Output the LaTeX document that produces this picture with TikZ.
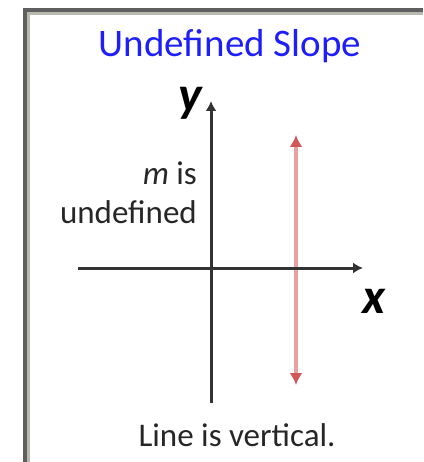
\documentclass[tikz,border=0pt]{standalone}
\usepackage{fontspec}
\setmainfont{Carlito}
\usetikzlibrary{arrows.meta,positioning}
\definecolor{slopeblue}{RGB}{30,30,250}
\definecolor{vline}{RGB}{232,160,160}
\definecolor{vhead}{RGB}{208,90,90}
\definecolor{frameout}{RGB}{95,95,95}
\definecolor{framein}{RGB}{185,185,175}

\begin{document}
\begin{tikzpicture}[
  x=1pt, y=-1pt,
  ttl/.style={inner sep=0pt, text=slopeblue, font=\fontsize{39}{46}\selectfont},
  lbl/.style={inner sep=0pt, text=black!85, font=\fontsize{33}{39}\selectfont},
  axlbl/.style={inner sep=0pt, font=\fontsize{50}{50}\selectfont\bfseries\itshape},
  axis/.style={-{Latex[length=10pt, width=11pt]}, line width=3pt, black!80},
  vert/.style={{Latex[length=12pt, width=13pt, color=vhead]}-{Latex[length=12pt, width=13pt, color=vhead]}, line width=4pt, vline}]

\useasboundingbox (0,0) rectangle (423,462);
\draw[line width=4pt, frameout] (25.3,462) -- (25.3,10.3) -- (423,10.3);
\draw[line width=3pt, framein] (28.8,462) -- (28.8,13.8) -- (423,13.8);

\coordinate (xleft) at (78,268);
\coordinate (xright) at (363,268);
\coordinate (ybot) at (211,403);
\coordinate (ytop) at (211,101);
\coordinate (vbot) at (296,385);
\coordinate (vtop) at (296,135);

\draw[vert] (vbot) -- (vtop);
\draw[axis] (xleft) -- (xright);
\draw[axis] (ybot) -- (ytop);

\node[ttl, anchor=base] (title) at (230,57) {Undefined Slope};
\node[axlbl, anchor=base] (ylab) at (190,112) {y};
\node[axlbl, anchor=base] (xlab) at (374,313) {x};
\node[lbl, align=right, anchor=south east] (note) at (197,224) {\textit{m} is\\undefined};
\node[lbl, anchor=base] (caption) at (237,446) {Line is vertical.};
\end{tikzpicture}
\end{document}
